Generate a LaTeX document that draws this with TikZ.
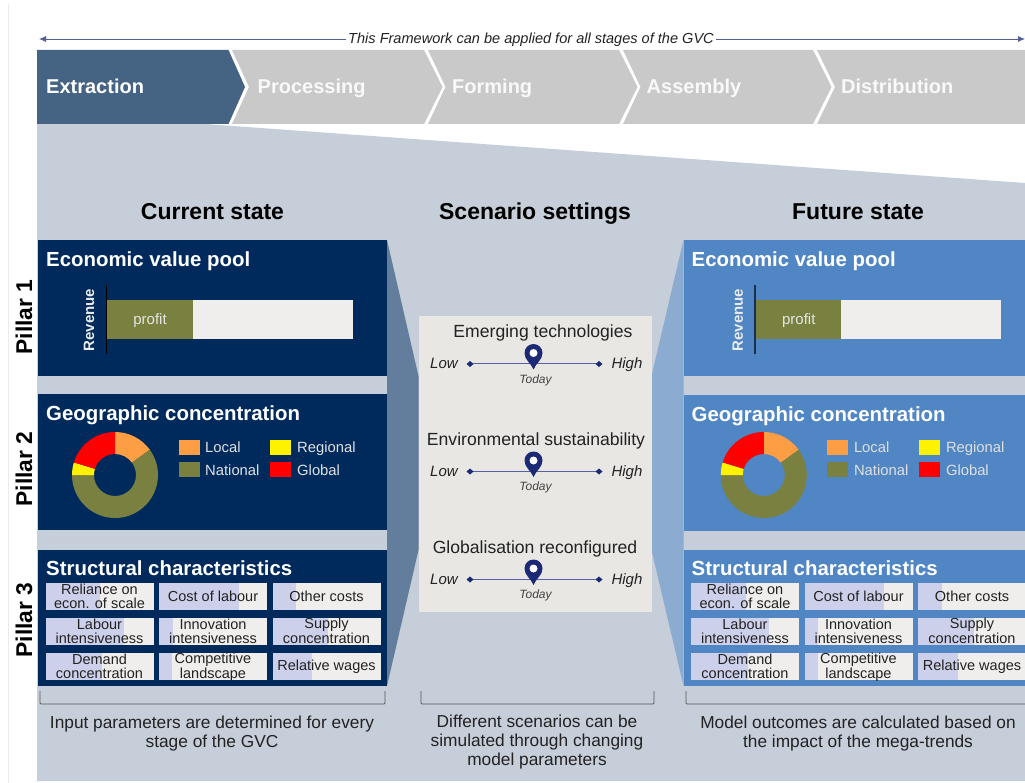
\documentclass[tikz,border=0pt]{standalone}
\usepackage{fontspec}
\setmainfont{Liberation Sans}
\usetikzlibrary{arrows.meta,calc}
\definecolor{panelc}{HTML}{C6CED9}
\definecolor{navy}{HTML}{002A5C}
\definecolor{midblue}{HTML}{5086C4}
\definecolor{chevdark}{HTML}{456383}
\definecolor{chevgrey}{HTML}{C9C9C9}
\definecolor{trapL}{HTML}{637E9D}
\definecolor{trapR}{HTML}{8BABD0}
\definecolor{scen}{HTML}{E8E7E4}
\definecolor{olive}{HTML}{7A8040}
\definecolor{lightbar}{HTML}{EFEEEC}
\definecolor{cellfill}{HTML}{CDD0EA}
\definecolor{orangec}{HTML}{FD9E45}
\definecolor{pinc}{HTML}{1C2A75}
\definecolor{axisc}{HTML}{5560A8}
\definecolor{txt}{HTML}{222222}
\definecolor{revR}{HTML}{1A2E50}
\tikzset{
  chevtext/.style={anchor=base west,font=\fontsize{20}{20}\selectfont\bfseries,inner sep=0pt},
  coltitle/.style={anchor=base,font=\fontsize{23}{23}\selectfont\bfseries,text=black,inner sep=0pt},
  boxtitle/.style={anchor=base west,font=\fontsize{20.4}{20.4}\selectfont\bfseries,text=white,inner sep=0pt},
  pillar/.style={rotate=90,anchor=base,font=\fontsize{22.8}{22.8}\selectfont\bfseries,text=black,inner sep=0pt},
  celltext/.style={align=center,font=\fontsize{14.5}{13.5}\selectfont,text=txt,inner sep=0pt},
  legtext/.style={anchor=base west,font=\fontsize{14.8}{14.8}\selectfont,text=white!88!black,inner sep=0pt},
  bodytext/.style={align=center,anchor=base,font=\fontsize{17.3}{19}\selectfont,text=txt,inner sep=0pt},
  scenhead/.style={anchor=base,font=\fontsize{17.6}{17.6}\selectfont,text=txt,inner sep=0pt},
  lowhigh/.style={anchor=base,font=\fontsize{15}{15}\selectfont\itshape,text=txt,inner sep=0pt},
  today/.style={anchor=base,font=\fontsize{12}{12}\selectfont\itshape,text=txt!85!white,inner sep=0pt},
  axisline/.style={axisc,line width=1pt},
  bracketline/.style={draw=black!65,line width=0.8pt,rounded corners=1pt},
}
\newcommand{\gvccell}[7]{% prefix, name, x, y, split x, label, label y offset
  \fill[lightbar] (#3,#4) rectangle ++(108,26.5);
  \fill[cellfill] (#3,#4) rectangle (#5,#4+26.5);
  \node[celltext] (#1#2) at (#3+54,#4+#7) {#6};
}
\newcommand{\gvcpanel}[6]{% prefix, box colour, box width, second-box y, chart shift, revenue-line colour
  \fill[#2] (38,240) rectangle ++(#3,136);
  \fill[#2] (38,#4) rectangle ++(#3,136);
  \fill[#2] (38,550) rectangle ++(#3,136);
  \node[boxtitle] (#1eco) at (46,266.5) {Economic value pool};
  \node[boxtitle] (#1geo) at (46,#4+26.5) {Geographic concentration};
  \node[boxtitle] (#1str) at (46,575.5) {Structural characteristics};
  \begin{scope}[xshift=#5]
  \fill[olive] (107,300.5) rectangle (192.5,339);
  \fill[lightbar] (192.5,300.5) rectangle (352.5,339);
  \draw[#6,line width=1.3pt] (106.3,285) -- (106.3,354);
  \node[anchor=base,font=\fontsize{15}{15}\selectfont,text=white!90!black,inner sep=0pt] (#1profit) at (150,325) {profit};
  \node[rotate=90,anchor=base,font=\fontsize{15}{15}\selectfont\bfseries,text=white!92!black,inner sep=0pt] (#1rev) at (94,320) {Revenue};
  \foreach \c/\a/\b in {orangec/90/36,olive/36/-180,yellow/180/163,red/163/90}{
    \fill[\c] ($(115,475)+(\a:43 and -43)$) arc[start angle=-\a,end angle=-\b,radius=43]
      -- ($(115,475)+(\b:21 and -21)$) arc[start angle=-\b,end angle=-\a,radius=21] -- cycle;
  }
  \fill[orangec] (178.5,440) rectangle ++(21,15);
  \fill[yellow] (270,440) rectangle ++(21,15);
  \fill[olive] (178.5,462) rectangle ++(21,15);
  \fill[red] (270,462) rectangle ++(21,15);
  \node[legtext] (#1l1) at (205,452.7) {Local};
  \node[legtext] (#1l2) at (297,452.7) {Regional};
  \node[legtext] (#1l3) at (205,475) {National};
  \node[legtext] (#1l4) at (297,475) {Global};
  \end{scope}
  \gvccell{#1}{c1}{45.5}{583}{100}{Reliance on\\econ. of scale\vphantom{p}}{14.5}
  \gvccell{#1}{c2}{159}{583}{238.5}{Cost of labour}{13.5}
  \gvccell{#1}{c3}{272.5}{583}{296}{Other costs}{13.5}
  \gvccell{#1}{c4}{45.5}{618}{123.5}{Labour\\intensiveness\vphantom{p}}{14.5}
  \gvccell{#1}{c5}{159}{618}{172.5}{Innovation\\intensiveness\vphantom{p}}{14.5}
  \gvccell{#1}{c6}{272.5}{618}{328}{Supply\\concentration\vphantom{p}}{14.5}
  \gvccell{#1}{c7}{45.5}{653}{102}{Demand\\concentration\vphantom{p}}{14.5}
  \gvccell{#1}{c8}{159}{653}{172}{Competitive\\landscape\vphantom{p}}{14.5}
  \gvccell{#1}{c9}{272.5}{653}{312}{Relative wages}{13.5}
}
\newcommand{\gvcscen}[5]{% prefix, heading baseline, axis y, heading x, heading
  \node[scenhead] (#1h) at (#4,#2) {#5};
  \node[lowhigh] (#1low) at (444,#3+4.5) {Low};
  \node[lowhigh] (#1high) at (627,#3+4.5) {High};
  \coordinate (#1a) at (470,#3);
  \coordinate (#1b) at (599,#3);
  \draw[axisline] (#1a) -- (#1b);
  \fill[pinc] (470,#3-3) -- (473.5,#3) -- (470,#3+3) -- (466.5,#3) -- cycle;
  \fill[pinc] (599,#3-3) -- (602.5,#3) -- (599,#3+3) -- (595.5,#3) -- cycle;
  \fill[pinc] (533.5,#3+5.5) .. controls (531,#3-1) and (524.5,#3-4) .. (524.5,#3-11)
    arc[start angle=180,end angle=360,radius=9]
    .. controls (542.5,#3-4) and (536,#3-1) .. cycle;
  \fill[white] (533.5,#3-11) circle[radius=4];
  \node[today] (#1t) at (535.5,#3+19) {Today};
}
\begin{document}
\begin{tikzpicture}[x=1pt,y=-1pt]
\useasboundingbox (0,0) rectangle (1025,783);
\fill[white] (0,0) rectangle (1025,783);
\draw[black!8,line width=0.6pt] (8.5,4) -- (8.5,783);
% main panel
\fill[panelc] (37,124) -- (205,124) -- (1025,183) -- (1025,781) -- (37,781) -- cycle;
% framework arrow
\node[anchor=base,font=\fontsize{14.55}{14.55}\selectfont\itshape,text=txt,inner sep=0pt] (gvc) at (531,44) {This Framework can be applied for all stages of the GVC};
\coordinate (gvcL) at (39,39);
\coordinate (gvcR) at (1025,39);
\draw[-{Latex[length=7pt,width=6pt]},color=pinc!75!white,line width=0.9pt] (gvc.west |- gvcL) ++(-2,0) -- (gvcL);
\draw[-{Latex[length=7pt,width=6pt]},color=pinc!75!white,line width=0.9pt] (gvc.east |- gvcR) ++(2,0) -- (gvcR);
% chevrons
\fill[chevdark] (37,50) -- (228.5,50) -- (245,87) -- (228.5,124) -- (37,124) -- cycle;
\fill[chevgrey] (232,50) -- (424,50) -- (442.5,87) -- (424,124) -- (232,124) -- (249,87) -- cycle;
\fill[chevgrey] (428,50) -- (619,50) -- (637.5,87) -- (619,124) -- (428,124) -- (445.5,87) -- cycle;
\fill[chevgrey] (623,50) -- (813,50) -- (831.5,87) -- (813,124) -- (623,124) -- (640.5,87) -- cycle;
\fill[chevgrey] (817,50) -- (1025,50) -- (1025,124) -- (817,124) -- (835,87) -- cycle;
\node[chevtext,text=white] (s1) at (46,93.5) {Extraction};
\node[chevtext,text=white!88!chevgrey] (s2) at (257.5,93.5) {Processing};
\node[chevtext,text=white!88!chevgrey] (s3) at (452,93.5) {Forming};
\node[chevtext,text=white!88!chevgrey] (s4) at (646.5,93.5) {Assembly};
\node[chevtext,text=white!88!chevgrey] (s5) at (841,93.5) {Distribution};
% column titles
\node[coltitle] (t1) at (212.5,219.5) {Current state};
\node[coltitle] (t2) at (535,219.5) {Scenario settings};
\node[coltitle] (t3) at (858,219.5) {Future state};
% funnels
\fill[trapL] (387,240) -- (418.5,376) -- (418.5,550) -- (387,686) -- cycle;
\fill[trapR] (683.5,240) -- (651.5,376) -- (651.5,550) -- (683.5,686) -- cycle;
% pillars
\node[pillar] (p1) at (32,317) {Pillar 1};
\node[pillar] (p2) at (32,469) {Pillar 2};
\node[pillar] (p3) at (32,620) {Pillar 3};
% left panels
\gvcpanel{L}{navy}{349}{394}{0pt}{black}
% right panels
\begin{scope}[xshift=645.5pt]
\clip (37,230) rectangle (379.5,700);
\gvcpanel{R}{midblue}{342}{395}{3.3pt}{revR}
\end{scope}
% scenario box
\fill[scen] (418.5,316) rectangle (651.5,612);
\gvcscen{a}{338}{364}{543}{Emerging technologies}
\gvcscen{b}{445}{471.5}{536}{Environmental sustainability}
\gvcscen{c}{553.5}{579.5}{535}{Globalisation reconfigured}
% brackets
\coordinate (b1a) at (40,691); \coordinate (b1b) at (385,691);
\coordinate (b2a) at (421,691); \coordinate (b2b) at (654,691);
\coordinate (b3a) at (686,691); \coordinate (b3b) at (1025,704);
\draw[bracketline] (b1a) -- ++(0,13) -| (b1b);
\draw[bracketline] (b2a) -- ++(0,13) -| (b2b);
\draw[bracketline] (b3a) |- (b3b);
% captions
\node[bodytext,anchor=center] (n1) at (212,733.5) {Input parameters are determined for every\\stage of the GVC};
\node[bodytext,anchor=center] (n2) at (537,742.5) {Different scenarios can be\\simulated through changing\\model parameters};
\node[bodytext,anchor=center] (n3) at (858,733.5) {Model outcomes are calculated based on\\the impact of the mega-trends};
\end{tikzpicture}
\end{document}
